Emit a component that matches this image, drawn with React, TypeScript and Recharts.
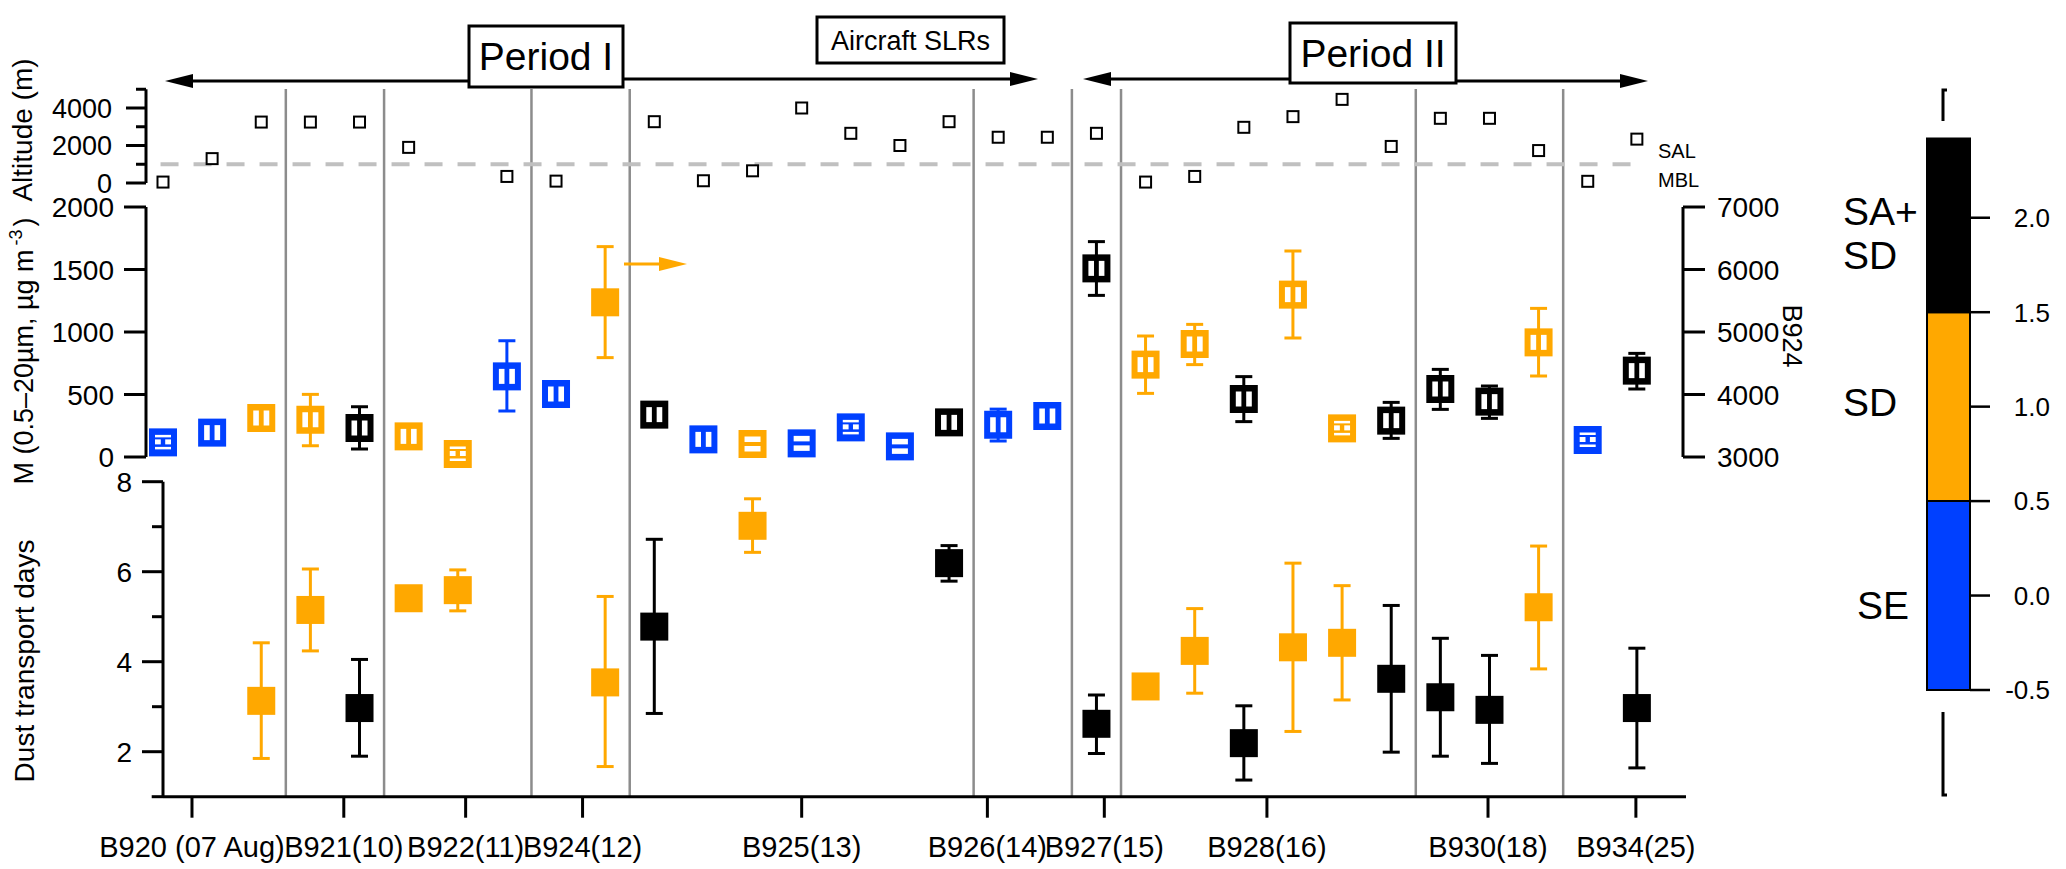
import React from 'react';
import { ComposedChart, Scatter, XAxis, YAxis, ErrorBar, ReferenceLine, ReferenceArea } from 'recharts';

const W = 2066;
const H = 869;
const FONT = '"Liberation Sans", Arial, Helvetica, sans-serif';

// ---------- data ----------
const sampleIndex = [0, 1, 2, 3, 4, 5, 6, 7, 8, 9, 10, 11, 12, 13, 14, 15, 16, 17, 18, 19, 20, 21, 22, 23, 24, 25, 26, 27, 28, 29, 30];

// 0 = SE, 1 = SD, 2 = SA+SD
const dustClass = [0, 0, 1, 1, 2, 1, 1, 0, 0, 1, 2, 0, 1, 0, 0, 0, 2, 0, 0, 2, 1, 1, 2, 1, 1, 2, 2, 2, 1, 0, 2];

const altitudeM = [50, 1300, 3250, 3250, 3250, 1900, null, 350, 100, null, 3270, 120, 650, 4000, 2650, 2000, 3270, 2440, 2440, 2650, 50, 350, 2970, 3540, 4460, 1950, 3450, 3450, 1730, 90, 2340];

const massMean = [117, 195, 312, 298, 232, 165, 24, 645, 504, null, 339, 141, 104, 109, 237, 85, 277, 258, 328, 1509, 739, 904, 464, 1299, 229, 291, 544, 443, 917, 136, 691];
const massErrLo = [0, 0, 0, 208, 168, 0, 0, 277, 0, 0, 0, 0, 0, 0, 0, 0, 0, 130, 0, 216, 230, 165, 181, 347, 0, 142, 163, 134, 269, 0, 147];
const massErrHi = [0, 0, 0, 203, 170, 0, 0, 285, 0, 0, 0, 0, 0, 0, 0, 0, 0, 125, 0, 214, 229, 157, 179, 349, 0, 146, 157, 125, 272, 0, 138];
const markerPattern = ['g', 'v', 'v', 'v', 'v', 'v', 'g', 'v', 'v', 'f', 'v', 'v', 'h', 'h', 'g', 'h', 'v', 'v', 'v', 'v', 'v', 'v', 'v', 'v', 'g', 'v', 'v', 'v', 'v', 'g', 'v'];

const b924Index = 9;
const b924Mass = 5475;
const b924ErrLo = 885;
const b924ErrHi = 891;

const transportDays = [null, null, 3.13, 5.15, 2.97, 5.41, 5.59, null, null, 3.54, 4.78, null, 7.02, null, null, null, 6.19, null, null, 2.62, 3.45, 4.24, 2.19, 4.32, 4.42, 3.62, 3.21, 2.93, 5.21, null, 2.97];
const transportErrLo = [0, 0, 1.28, 0.91, 1.07, 0, 0.46, 0, 0, 1.87, 1.93, 0, 0.59, 0, 0, 0, 0.4, 0, 0, 0.66, 0, 0.94, 0.82, 1.87, 1.27, 1.63, 1.31, 1.19, 1.37, 0, 1.33];
const transportErrHi = [0, 0, 1.29, 0.91, 1.08, 0, 0.45, 0, 0, 1.91, 1.94, 0, 0.6, 0, 0, 0, 0.39, 0, 0, 0.64, 0, 0.94, 0.83, 1.87, 1.27, 1.63, 1.31, 1.21, 1.36, 0, 1.33];

const separators = [2.5, 4.5, 7.5, 9.5, 16.5, 18.5, 19.5, 25.5, 28.5];

const flightTickPos = [0.59, 3.68, 6.16, 8.54, 13.0, 16.78, 19.16, 22.47, 26.97, 29.98];
const flightTickLabels = ['B920 (07 Aug)', 'B921(10)', 'B922(11)', 'B924(12)', 'B925(13)', 'B926(14)', 'B927(15)', 'B928(16)', 'B930(18)', 'B934(25)'];

const altTicks = [0, 1000, 2000, 3000, 4000, 5000];
const altMajor = [0, 2000, 4000];
const massTicks = [0, 500, 1000, 1500, 2000];
const b924Ticks = [3000, 4000, 5000, 6000, 7000];
const daysTicks = [2, 3, 4, 5, 6, 7, 8];
const daysMajor = [2, 4, 6, 8];

const classNames = ['SE', 'SD', 'SA+SD'];
const classColors = ['#0040ff', '#ffa800', '#000000'];
const colorbarBounds = [-0.5, 0.5, 1.5, 2.42];
const colorbarTicks = [-0.5, 0, 0.5, 1, 1.5, 2];

// ---------- derived tables ----------
const altitudeData = sampleIndex
  .filter((i) => altitudeM[i] != null)
  .map((i) => ({ x: i, y: altitudeM[i] as number }));

const massData = (cls: number) =>
  sampleIndex
    .filter((i) => dustClass[i] === cls && massMean[i] != null)
    .map((i) => ({
      x: i,
      y: massMean[i] as number,
      err: massErrLo[i] || massErrHi[i] ? [massErrLo[i], massErrHi[i]] : undefined,
      pattern: markerPattern[i],
      color: classColors[cls],
    }));

const b924Data = [{ x: b924Index, y: b924Mass, err: [b924ErrLo, b924ErrHi], color: classColors[dustClass[b924Index]] }];

const daysData = (cls: number) =>
  sampleIndex
    .filter((i) => dustClass[i] === cls && transportDays[i] != null)
    .map((i) => ({
      x: i,
      y: transportDays[i] as number,
      err: transportErrLo[i] || transportErrHi[i] ? [transportErrLo[i], transportErrHi[i]] : undefined,
      color: classColors[cls],
    }));

const separatorData = separators.map((s) => ({ x: s, y: 0.5 }));
const colorbarData = [0, 1, 2].map((cls) => ({ x: 0.5, y: (colorbarBounds[cls] + colorbarBounds[cls + 1]) / 2 }));

// ---------- shapes ----------
const NoMarker = () => <g />;

const AltMarker = (p: any) => {
  if (p.cx == null) return null;
  return <rect x={p.cx - 5.5} y={p.cy - 5.5} width={11} height={11} fill="#fff" stroke="#000" strokeWidth={2} />;
};

const MassMarker = (p: any) => {
  const { cx, cy, payload } = p;
  if (cx == null) return null;
  const c = payload.color;
  const pat = payload.pattern;
  const holes: any[] = [];
  if (pat === 'v') {
    holes.push([cx - 8, cy - 7.5, 5.6, 15]);
    holes.push([cx + 2.4, cy - 7.5, 5.6, 15]);
  } else if (pat === 'h') {
    holes.push([cx - 8, cy - 7.5, 16, 5.5]);
    holes.push([cx - 8, cy + 2, 16, 5.5]);
  } else if (pat === 'g') {
    holes.push([cx - 8, cy - 7.5, 16, 2.5]);
    holes.push([cx - 8, cy - 3, 5.8, 5]);
    holes.push([cx + 2.2, cy - 3, 5.8, 5]);
    holes.push([cx - 8, cy + 4.5, 16, 2.5]);
  }
  return (
    <g>
      <rect x={cx - 14} y={cy - 14} width={28} height={28} fill={c} />
      {holes.map((h, k) => (
        <rect key={k} x={h[0]} y={h[1]} width={h[2]} height={h[3]} fill="#fff" />
      ))}
    </g>
  );
};

const FilledMarker = (p: any) => {
  if (p.cx == null) return null;
  return <rect x={p.cx - 14} y={p.cy - 14} width={28} height={28} fill={p.payload.color} />;
};

// ---------- ticks ----------
const makeLeftTick = (major: number[] | null, majorLen: number, minorLen: number, gap: number, fs: number) =>
  (props: any) => {
    const { x, y, payload } = props;
    const v = payload.value;
    const isMajor = major ? major.includes(v) : true;
    const len = isMajor ? majorLen : minorLen;
    return (
      <g>
        <line x1={x - len} x2={x} y1={y} y2={y} stroke="#000" strokeWidth={3} />
        {isMajor && (
          <text x={x - majorLen - gap} y={y} dy="0.36em" textAnchor="end" fontSize={fs} fontFamily={FONT} fill="#000">
            {v}
          </text>
        )}
      </g>
    );
  };

const RightTick = (props: any) => {
  const { x, y, payload } = props;
  return (
    <g>
      <line x1={x} x2={x + 22} y1={y} y2={y} stroke="#000" strokeWidth={3} />
      <text x={x + 34} y={y} dy="0.36em" textAnchor="start" fontSize={28} fontFamily={FONT} fill="#000">
        {payload.value}
      </text>
    </g>
  );
};

const ColorbarTick = (props: any) => {
  const { x, y, payload } = props;
  return (
    <g>
      <line x1={x} x2={x + 20} y1={y} y2={y} stroke="#000" strokeWidth={2.5} />
      <text x={x + 80} y={y} dy="0.36em" textAnchor="end" fontSize={26} fontFamily={FONT} fill="#000">
        {Number(payload.value).toFixed(1)}
      </text>
    </g>
  );
};

const altTick = makeLeftTick(altMajor, 20, 10, 14, 27);
const massTick = makeLeftTick(null, 22, 22, 10, 28);
const daysTick = makeLeftTick(daysMajor, 21, 11, 10, 28);

const abs: React.CSSProperties = { position: 'absolute', left: 0, top: 0 };
const axisLineStyle = { stroke: '#000', strokeWidth: 3 };

const Arrow = ({ x1, x2, y, color = '#000' }: { x1: number; x2: number; y: number; color?: string }) => {
  const dir = x2 > x1 ? 1 : -1;
  const headLen = 28;
  const base = x2 - dir * headLen;
  return (
    <g>
      <line x1={x1} x2={base + dir * 2} y1={y} y2={y} stroke={color} strokeWidth={3} />
      <polygon points={`${x2},${y} ${base},${y - 7} ${base},${y + 7}`} fill={color} />
    </g>
  );
};

export default function App() {
  return (
    <div style={{ position: 'absolute', left: 0, top: 0, width: W, height: H, background: '#fff', fontFamily: FONT }}>
      {/* flight separators */}
      <div style={abs}>
        <ComposedChart width={W} height={H} margin={{ top: 89, right: 380, bottom: H - 796.7, left: 163 }}>
          <XAxis type="number" dataKey="x" domain={[0, 31]} hide />
          <YAxis type="number" dataKey="y" domain={[0, 1]} hide />
          <Scatter data={separatorData} shape={NoMarker} isAnimationActive={false} />
          {separators.map((s) => (
            <ReferenceLine key={s} x={s} stroke="#8c8c8c" strokeWidth={2.5} />
          ))}
        </ComposedChart>
      </div>

      {/* altitude panel */}
      <div style={abs}>
        <ComposedChart width={W} height={H} margin={{ top: 89.25, right: 380, bottom: H - 183, left: 66 }}>
          <XAxis type="number" dataKey="x" domain={[-0.346, 31]} hide />
          <YAxis
            type="number"
            dataKey="y"
            domain={[0, 5000]}
            ticks={altTicks}
            interval={0}
            width={80}
            tickSize={0}
            tickMargin={0}
            tickLine={false}
            axisLine={axisLineStyle}
            tick={altTick}
          />
          <ReferenceLine
            segment={[{ x: -0.05, y: 1000 }, { x: 30.1, y: 1000 }]}
            stroke="#c0c0c0"
            strokeWidth={4}
            strokeDasharray="18 15"
            ifOverflow="visible"
          />
          <Scatter data={altitudeData} shape={AltMarker} isAnimationActive={false} />
        </ComposedChart>
      </div>

      {/* mass panel */}
      <div style={abs}>
        <ComposedChart width={W} height={H} margin={{ top: 207, right: 283, bottom: H - 457, left: 66 }}>
          <XAxis type="number" dataKey="x" domain={[-0.346, 30.94]} hide />
          <YAxis
            yAxisId="left"
            type="number"
            dataKey="y"
            domain={[0, 2000]}
            ticks={massTicks}
            interval={0}
            width={80}
            tickSize={0}
            tickMargin={0}
            tickLine={false}
            axisLine={axisLineStyle}
            tick={massTick}
          />
          <YAxis
            yAxisId="right"
            orientation="right"
            type="number"
            dataKey="y"
            domain={[3000, 7000]}
            ticks={b924Ticks}
            interval={0}
            width={100}
            tickSize={0}
            tickMargin={0}
            tickLine={false}
            axisLine={axisLineStyle}
            tick={RightTick}
          />
          {[0, 1, 2].map((cls) => (
            <Scatter
              key={classNames[cls]}
              name={classNames[cls]}
              yAxisId="left"
              data={massData(cls)}
              shape={MassMarker}
              isAnimationActive={false}
            >
              <ErrorBar dataKey="err" direction="y" width={8.5} stroke={classColors[cls]} strokeWidth={3} />
            </Scatter>
          ))}
          <Scatter yAxisId="right" data={b924Data} shape={FilledMarker} isAnimationActive={false}>
            <ErrorBar dataKey="err" direction="y" width={8.5} stroke={classColors[1]} strokeWidth={3} />
          </Scatter>
        </ComposedChart>
      </div>

      {/* transport days panel */}
      <div style={abs}>
        <ComposedChart width={W} height={H} margin={{ top: 481.7, right: 380, bottom: H - 796.7 - 60, left: 83 }}>
          <XAxis
            type="number"
            dataKey="x"
            domain={[0, 31]}
            ticks={flightTickPos}
            interval={0}
            height={60}
            tickSize={21}
            tickMargin={19}
            tickFormatter={(v: number) => flightTickLabels[flightTickPos.indexOf(v)]}
            tick={{ fill: '#000', fontSize: 29, fontFamily: FONT }}
            tickLine={{ stroke: '#000', strokeWidth: 3 }}
            axisLine={axisLineStyle}
          />
          <YAxis
            type="number"
            dataKey="y"
            domain={[1, 8]}
            ticks={daysTicks}
            interval={0}
            width={80}
            tickSize={0}
            tickMargin={0}
            tickLine={false}
            axisLine={axisLineStyle}
            tick={daysTick}
          />
          <ReferenceLine segment={[{ x: -0.23, y: 1 }, { x: 0, y: 1 }]} stroke="#000" strokeWidth={3} ifOverflow="visible" />
          {[1, 2].map((cls) => (
            <Scatter key={classNames[cls]} name={classNames[cls]} data={daysData(cls)} shape={FilledMarker} isAnimationActive={false}>
              <ErrorBar dataKey="err" direction="y" width={8.5} stroke={classColors[cls]} strokeWidth={3} />
            </Scatter>
          ))}
        </ComposedChart>
      </div>

      {/* colour bar */}
      <div style={abs}>
        <ComposedChart width={W} height={H} margin={{ top: 138.4, right: 16, bottom: H - 690, left: 1927 }}>
          <XAxis type="number" dataKey="x" domain={[0, 1]} hide />
          <YAxis
            orientation="right"
            type="number"
            dataKey="y"
            domain={[-0.5, 2.42]}
            ticks={colorbarTicks}
            interval={0}
            width={80}
            tickSize={0}
            tickMargin={0}
            tickLine={false}
            axisLine={false}
            tick={ColorbarTick}
          />
          {[0, 1, 2].map((cls) => (
            <ReferenceArea
              key={cls}
              x1={0}
              x2={1}
              y1={colorbarBounds[cls]}
              y2={colorbarBounds[cls + 1]}
              fill={classColors[cls]}
              fillOpacity={1}
              stroke="#000"
              strokeWidth={2}
            />
          ))}
          <Scatter data={colorbarData} shape={NoMarker} isAnimationActive={false} />
        </ComposedChart>
      </div>

      {/* annotations */}
      <svg width={W} height={H} style={abs} fontFamily={FONT}>
        {/* Period I */}
        <Arrow x1={469} x2={165} y={81} />
        <Arrow x1={623} x2={1038} y={79} />
        <rect x={469} y={26} width={154} height={61} fill="#fff" stroke="#000" strokeWidth={3} />
        <text x={546} y={70} textAnchor="middle" fontSize={39}>Period I</text>
        {/* Aircraft SLRs */}
        <rect x={817} y={17} width={187} height={46} fill="#fff" stroke="#000" strokeWidth={3} />
        <text x={910.5} y={50} textAnchor="middle" fontSize={27}>Aircraft SLRs</text>
        {/* Period II */}
        <Arrow x1={1290} x2={1083} y={79} />
        <Arrow x1={1456} x2={1648} y={81} />
        <rect x={1290} y={23} width={166} height={60} fill="#fff" stroke="#000" strokeWidth={3} />
        <text x={1373} y={67} textAnchor="middle" fontSize={39}>Period II</text>

        {/* orange arrow to B924 axis */}
        <Arrow x1={624} x2={687} y={264} color={classColors[1]} />

        {/* SAL / MBL */}
        <text x={1658} y={158} fontSize={20}>SAL</text>
        <text x={1658} y={187} fontSize={20}>MBL</text>

        {/* axis titles */}
        <text transform="translate(32,130) rotate(-90)" textAnchor="middle" fontSize={28}>Altitude (m)</text>
        <text transform="translate(33,351) rotate(-90)" textAnchor="middle" fontSize={27}>
          M (0.5–20µm, µg m<tspan dx={4} dy={-11} fontSize={18}>-3</tspan><tspan dx={3} dy={11}>)</tspan>
        </text>
        <text transform="translate(34,661) rotate(-90)" textAnchor="middle" fontSize={28}>Dust transport days</text>
        <text transform="translate(1783,336) rotate(90)" textAnchor="middle" fontSize={27}>B924</text>

        {/* colour bar labels */}
        <text x={1843} y={225} fontSize={39}>SA+</text>
        <text x={1843} y={269} fontSize={39}>SD</text>
        <text x={1843} y={416} fontSize={39}>SD</text>
        <text x={1857} y={619} fontSize={39}>SE</text>
        <path d="M1947,90 L1943,90 L1943,121" fill="none" stroke="#000" strokeWidth={3} />
        <path d="M1943,712 L1943,795 L1947,795" fill="none" stroke="#000" strokeWidth={3} />
      </svg>
    </div>
  );
}
